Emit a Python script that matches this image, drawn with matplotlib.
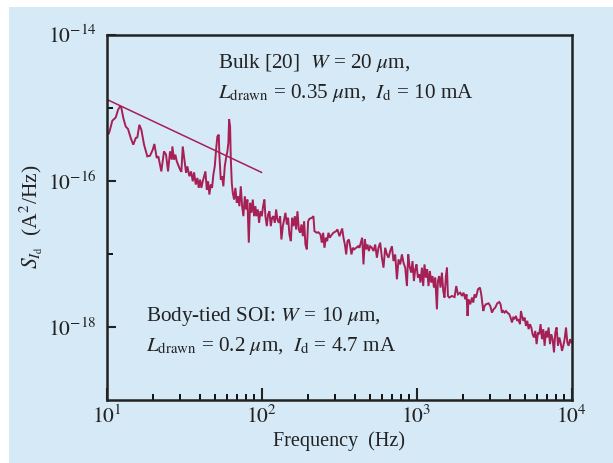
import matplotlib
matplotlib.use("Agg")
import matplotlib.pyplot as plt
from matplotlib.patches import Rectangle
from matplotlib.ticker import FixedLocator, NullFormatter, LogLocator

plt.rcParams['font.family'] = ['Liberation Serif', 'DejaVu Serif']
plt.rcParams['mathtext.fontset'] = 'stix'

# ---- measured noise spectrum (Hz, A^2/Hz), split per decade ----
freq_d1 = [10.03, 10.33, 10.53, 10.90, 11.47, 11.87, 12.22, 12.46, 12.84, 13.30,
           13.77, 14.33, 14.89, 15.44, 15.81, 16.29, 16.78, 17.47, 18.34, 19.09,
           19.87, 20.36, 21.09, 21.60, 22.58, 23.50, 24.22, 24.95, 25.70, 26.36,
           26.60, 27.28, 27.82, 28.40, 29.25, 29.82, 30.41, 31.04, 31.98, 32.61,
           33.24, 34.24, 35.12, 36.02, 36.72, 37.66, 38.56, 39.37, 40.14, 40.93,
           41.79, 42.62, 43.46, 44.37, 45.22, 46.10, 47.07, 47.99, 48.93, 49.94,
           50.93, 51.91, 53.01, 53.47, 54.60, 55.66, 56.75, 57.94, 59.08, 60.25,
           61.14, 61.79, 62.71, 63.36, 64.31, 65.27, 66.55, 67.84, 69.28, 70.63,
           72.01, 73.52, 74.96, 76.43, 78.04, 79.57, 81.10, 82.79, 84.41, 86.06,
           87.87, 89.60, 91.35, 92.71, 94.67, 96.51, 98.40]
psd_d1 = [4.72e-16, 4.35e-16, 4.98e-16, 6.61e-16, 7.33e-16, 9.33e-16, 1.035e-15, 1.00e-15, 7.19e-16, 5.52e-16,
          5.09e-16, 3.84e-16, 3.11e-16, 3.84e-16, 3.91e-16, 5.82e-16, 4.98e-16, 3.11e-16, 2.15e-16, 2.20e-16,
          2.65e-16, 3.18e-16, 2.05e-16, 2.15e-16, 1.34e-16, 2.52e-16, 2.27e-16, 1.34e-16, 2.52e-16, 1.94e-16,
          2.94e-16, 1.94e-16, 2.27e-16, 1.84e-16, 1.57e-16, 1.42e-16, 1.32e-16, 2.94e-16, 1.75e-16, 1.28e-16,
          1.57e-16, 1.15e-16, 1.34e-16, 9.81e-17, 1.30e-16, 8.85e-17, 1.09e-16, 7.98e-17, 1.035e-16, 7.98e-17,
          9.81e-17, 1.15e-16, 1.34e-16, 7.55e-17, 9.81e-17, 6.46e-17, 8.85e-17, 7.98e-17, 1.21e-16, 1.57e-16,
          2.65e-16, 4.03e-16, 4.26e-16, 2.27e-16, 1.035e-16, 1.15e-16, 8.38e-17, 1.57e-16, 2.05e-16, 2.52e-16,
          3.28e-16, 6.97e-16, 5.52e-16, 2.05e-16, 9.33e-17, 6.81e-17, 5.52e-17, 7.98e-17, 4.98e-17, 6.12e-17,
          4.48e-17, 8.38e-17, 4.48e-17, 3.27e-17, 6.12e-17, 4.04e-17, 5.52e-17, 1.42e-17, 4.98e-17, 3.64e-17,
          5.52e-17, 3.27e-17, 4.48e-17, 3.27e-17, 4.04e-17, 2.65e-17, 3.82e-17]

freq_d2 = [100.5, 102.4, 104.4, 106.0, 108.2, 110.3, 112.5, 114.8, 117.1, 119.4,
           121.9, 124.3, 126.6, 129.3, 131.9, 134.4, 137.3, 140.0, 142.7, 145.7,
           148.5, 151.4, 154.6, 157.6, 160.7, 164.1, 167.3, 170.6, 174.1, 177.5,
           181.0, 184.8, 188.4, 192.0, 196.1, 199.9, 203.9, 211.3, 216.3, 219.6,
           227.5, 233.1, 240.1, 245.1, 249.9, 254.8, 260.1, 265.2, 270.4, 276.0,
           281.4, 291.2, 303.1, 309.0, 318.4, 326.6, 331.5, 338.0, 345.1, 351.8,
           358.7, 366.2, 373.3, 380.6, 388.6, 396.2, 408.2, 420.5, 428.5, 437.5,
           446.1, 454.9, 464.5, 473.5, 482.7, 492.9, 502.5, 515.4, 527.8, 541.3,
           555.2, 568.6, 583.2, 598.1, 612.4, 628.1, 644.2, 659.7, 676.6, 693.9,
           710.6, 728.8, 747.5, 765.5, 785.2, 805.2, 824.6, 845.7, 867.4, 884.3,
           901.6, 924.5, 942.5, 962.3, 981.1]
psd_d2 = [3.27e-17, 4.48e-17, 5.52e-17, 3.27e-17, 2.39e-17, 3.45e-17, 3.82e-17, 2.39e-17, 3.11e-17, 3.27e-17,
          2.65e-17, 4.04e-17, 2.94e-17, 2.65e-17, 3.27e-17, 1.57e-17, 2.39e-17, 2.94e-17, 3.64e-17, 2.52e-17,
          3.11e-17, 1.84e-17, 1.49e-17, 3.11e-17, 2.39e-17, 3.27e-17, 2.15e-17, 3.82e-17, 2.15e-17, 1.94e-17,
          2.52e-17, 1.74e-17, 2.79e-17, 1.34e-17, 1.15e-17, 2.79e-17, 3.01e-17, 3.11e-17, 3.27e-17, 2.04e-17,
          1.94e-17, 1.97e-17, 1.84e-17, 1.42e-17, 1.94e-17, 1.21e-17, 1.66e-17, 1.49e-17, 1.94e-17, 1.66e-17,
          1.78e-17, 1.94e-17, 2.04e-17, 2.15e-17, 1.74e-17, 2.04e-17, 2.22e-17, 1.66e-17, 1.34e-17, 9.81e-18,
          1.49e-17, 1.57e-17, 1.27e-17, 9.81e-18, 1.21e-17, 1.15e-17, 1.21e-17, 1.27e-17, 1.21e-17, 1.42e-17,
          1.66e-17, 7.16e-18, 1.57e-17, 1.15e-17, 1.34e-17, 1.09e-17, 1.27e-17, 1.21e-17, 1.09e-17, 1.34e-17,
          8.85e-18, 1.21e-17, 1.42e-17, 8.85e-18, 6.46e-18, 1.21e-17, 9.81e-18, 8.85e-18, 1.09e-17, 1.27e-17,
          7.95e-18, 9.81e-18, 4.48e-18, 8.38e-18, 7.16e-18, 9.81e-18, 7.55e-18, 6.46e-18, 3.62e-18, 9.81e-18,
          6.79e-18, 5.52e-18, 7.95e-18, 4.24e-18, 6.12e-18]

freq_d3 = [1000, 1021, 1041, 1061, 1084, 1105, 1126, 1150, 1172, 1195,
           1220, 1244, 1269, 1296, 1321, 1354, 1374, 1401, 1429, 1459,
           1488, 1516, 1548, 1572, 1595, 1627, 1693, 1760, 1805, 1851,
           1915, 1965, 2012, 2063, 2103, 2134, 2167, 2223, 2280, 2324,
           2368, 2418, 2492, 2567, 2617, 2697, 2749, 2807, 2917, 2992,
           3068, 3142, 3222, 3319, 3420, 3486, 3559, 3629, 3700, 3778,
           3851, 3967, 4045, 4130, 4210, 4292, 4383, 4468, 4555, 4651,
           4721, 4792, 4885, 4981, 5085, 5185, 5286, 5397, 5502, 5610,
           5728, 5840, 5954, 6080, 6196, 6317, 6450, 6577, 6705, 6846,
           6980, 7116, 7266, 7408, 7551, 7711, 7861, 8015, 8183, 8344,
           8507, 8685, 8855, 9027, 9218, 9397, 9579, 9781, 9972]
psd_d3 = [7.16e-18, 4.72e-18, 5.24e-18, 4.04e-18, 6.46e-18, 3.62e-18, 7.16e-18, 4.72e-18, 6.12e-18, 3.62e-18,
          5.81e-18, 4.04e-18, 4.96e-18, 3.45e-18, 4.72e-18, 1.74e-18, 4.24e-18, 4.96e-18, 3.45e-18, 5.52e-18,
          3.10e-18, 2.52e-18, 4.96e-18, 6.46e-18, 2.65e-18, 2.52e-18, 2.65e-18, 2.56e-18, 3.62e-18, 2.79e-18,
          2.94e-18, 2.65e-18, 2.94e-18, 2.39e-18, 2.79e-18, 1.41e-18, 2.39e-18, 2.04e-18, 2.52e-18, 2.15e-18,
          2.79e-18, 2.52e-18, 3.27e-18, 3.45e-18, 2.79e-18, 1.65e-18, 1.93e-18, 2.04e-18, 2.10e-18, 1.93e-18,
          1.57e-18, 1.74e-18, 1.84e-18, 2.10e-18, 2.19e-18, 2.04e-18, 1.57e-18, 1.65e-18, 1.57e-18, 1.65e-18,
          1.57e-18, 1.49e-18, 1.34e-18, 1.15e-18, 1.34e-18, 1.30e-18, 1.41e-18, 1.21e-18, 1.27e-18, 1.09e-18,
          1.65e-18, 1.41e-18, 1.21e-18, 1.34e-18, 1.03e-18, 1.21e-18, 9.31e-19, 1.09e-18, 9.81e-19, 7.94e-19,
          7.16e-19, 8.81e-19, 5.81e-19, 8.38e-19, 7.94e-19, 1.09e-18, 6.79e-19, 9.31e-19, 5.51e-19, 8.81e-19,
          7.16e-19, 9.81e-19, 5.81e-19, 7.94e-19, 6.79e-19, 4.48e-19, 8.38e-19, 9.81e-19, 5.51e-19, 7.16e-19,
          6.12e-19, 4.70e-19, 5.51e-19, 6.79e-19, 9.81e-19, 6.12e-19, 5.51e-19, 6.79e-19, 6.12e-19]

# 1/f reference line (bulk device)
fit_freq = [10, 100]
fit_psd = [1.3e-15, 1.3e-16]

ytick_vals = [1e-18, 1e-16, 1e-14]
ytick_labels = [r'$10^{-18}$', r'$10^{-16}$', r'$10^{-14}$']
ytick_minor = [1e-17, 1e-15]
xtick_vals = [1e1, 1e2, 1e3, 1e4]
xtick_labels = [r'$10^{1}$', r'$10^{2}$', r'$10^{3}$', r'$10^{4}$']

bg = '#d6e9f6'
line_col = '#a61f55'
tc = '#222222'

W, H = 613, 463
fig = plt.figure(figsize=(W / 100, H / 100), dpi=100)
fig.patch.set_facecolor('white')
fig.patches.append(Rectangle((9 / W, 0), 1 - 9 / W, 1 - 7 / H, transform=fig.transFigure,
                             facecolor=bg, edgecolor='none', zorder=-10))

ax = fig.add_axes([106.5 / W, 1 - 400 / H, (571.5 - 106.5) / W, (400 - 34.5) / H])
ax.set_facecolor('none')

freq = freq_d1 + freq_d2 + freq_d3
psd = psd_d1 + psd_d2 + psd_d3
ax.plot(freq, psd, color=line_col, lw=1.4, solid_joinstyle='miter')
ax.plot(fit_freq, fit_psd, color=line_col, lw=1.1)

ax.set_xscale('log')
ax.set_yscale('log')
ax.set_xlim(10, 1e4)
ax.set_ylim(1e-19, 1e-14)

ax.set_xticks(xtick_vals)
ax.set_xticklabels(xtick_labels)
ax.xaxis.set_minor_locator(LogLocator(base=10, subs=range(2, 10)))
ax.xaxis.set_minor_formatter(NullFormatter())
ax.set_yticks(ytick_vals)
ax.set_yticklabels(ytick_labels)
ax.yaxis.set_minor_locator(FixedLocator(ytick_minor))
ax.yaxis.set_minor_formatter(NullFormatter())

ax.tick_params(axis='x', which='major', direction='in', length=8.5, width=1.5, labelsize=15.5, pad=4, colors=tc)
ax.tick_params(axis='x', which='minor', direction='in', length=4.2, width=1.3)
ax.tick_params(axis='y', which='major', direction='in', length=6.5, width=1.5, labelsize=15.5, pad=7, colors=tc)
ax.tick_params(axis='y', which='minor', direction='in', length=4.2, width=1.3)
for s in ax.spines.values():
    s.set_linewidth(1.8)
    s.set_color(tc)

ax.set_xlabel('Frequency  (Hz)', fontsize=14.5, color=tc, labelpad=2)
ax.set_ylabel(r'$S_{I_{\rm d}}$  (A$^2$/Hz)', fontsize=15.5, color=tc, labelpad=2)

fs = 15.2
ax.text(218 / W, 1 - 63 / H, r'Bulk [20]  $W$ = 20 $\mu$m,', transform=fig.transFigure,
        fontsize=fs, color=tc, va='center', ha='left')
ax.text(218 / W, 1 - 93 / H, r'$L_{\rm drawn}$ = 0.35 $\mu$m,  $I_{\rm d}$ = 10 mA', transform=fig.transFigure,
        fontsize=fs, color=tc, va='center', ha='left')
ax.text(146 / W, 1 - 316 / H, r'Body-tied SOI: $W$ = 10 $\mu$m,', transform=fig.transFigure,
        fontsize=fs, color=tc, va='center', ha='left')
ax.text(146 / W, 1 - 346 / H, r'$L_{\rm drawn}$ = 0.2 $\mu$m,  $I_{\rm d}$ = 4.7 mA', transform=fig.transFigure,
        fontsize=fs, color=tc, va='center', ha='left')

fig.savefig('out.png', dpi=100)
